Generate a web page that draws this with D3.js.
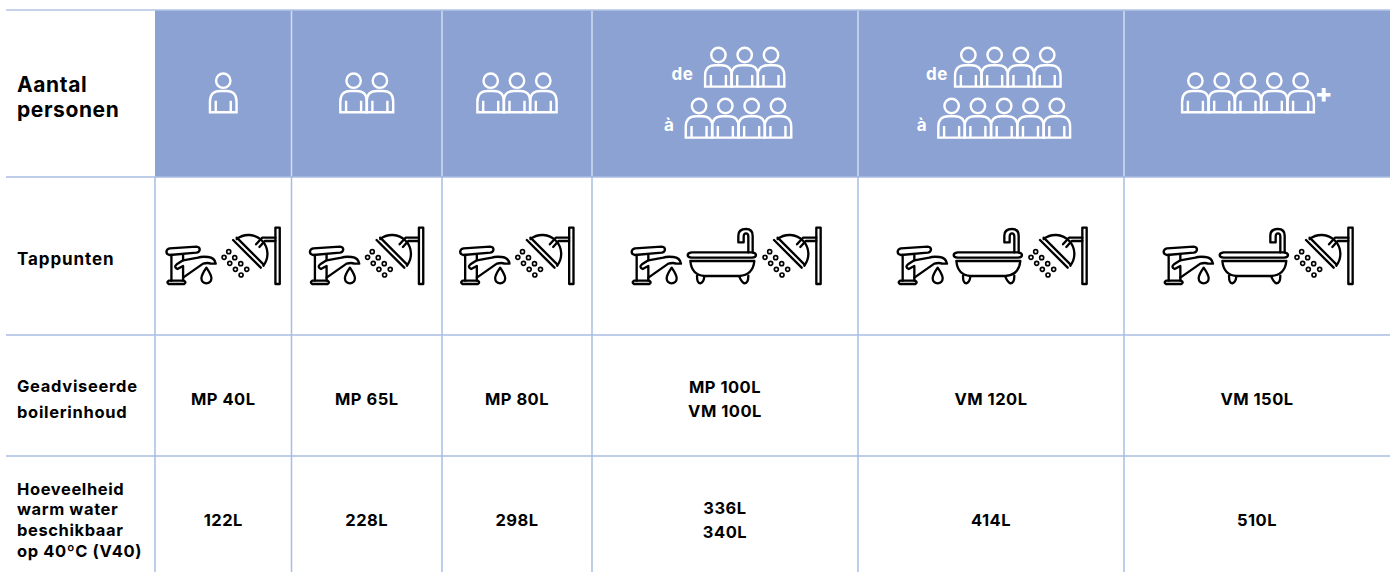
<!DOCTYPE html>
<html>
<head>
<meta charset="utf-8">
<script src="https://cdn.jsdelivr.net/npm/d3@7"></script>
<style>
  html, body { margin: 0; background: #fff; }
  svg { display: block; }
  text { font-family: Inter, "Open Sans", sans-serif; }
</style>
</head>
<body>
<div id="viz"></div>
<script>
// table content
var columns = ["c1", "c2", "c3", "c4", "c5", "c6"];
var personsFrom = [1, 2, 3, 3, 4, 5];
var personsTo = [0, 0, 0, 4, 5, 0];
var personsPlus = [false, false, false, false, false, true];
var fixtures = [
  ["tap", "shower"], ["tap", "shower"], ["tap", "shower"],
  ["tap", "bath", "shower"], ["tap", "bath", "shower"], ["tap", "bath", "shower"]
];
var boilers = [["MP 40L"], ["MP 65L"], ["MP 80L"], ["MP 100L", "VM 100L"], ["VM 120L"], ["VM 150L"]];
var volumes = [["122L"], ["228L"], ["298L"], ["336L", "340L"], ["414L"], ["510L"]];
var rowLabels = [
  ["Aantal", "personen"],
  ["Tappunten"],
  ["Geadviseerde", "boilerinhoud"],
  ["Hoeveelheid", "warm water", "beschikbaar", "op 40ºC (V40)"]
];

// layout
var W = 1392, H = 572;
var colEdges = [155, 291.5, 442, 592, 858, 1124, 1390];
var rowEdges = [10, 177, 335, 456, 572];
var blue = "#8ca2d3", line = "#a9bce2", headLine = "#d3ddf2", ink = "#000";

var x = d3.scaleOrdinal().domain(columns)
  .range(columns.map((c, i) => (colEdges[i] + colEdges[i + 1]) / 2));

var svg = d3.select("#viz").append("svg").attr("width", W).attr("height", H);

// header band
svg.append("rect").attr("x", colEdges[0]).attr("y", rowEdges[0])
  .attr("width", colEdges[6] - colEdges[0]).attr("height", rowEdges[1] - rowEdges[0])
  .attr("fill", blue);

// grid
svg.append("line").attr("x1", 6).attr("x2", 1390).attr("y1", 10).attr("y2", 10)
  .attr("stroke", "#b4c4e6").attr("stroke-width", 1.5);
svg.selectAll(".hline").data(rowEdges.slice(1, 4)).enter().append("line")
  .attr("x1", 6).attr("x2", 1390).attr("y1", d => d).attr("y2", d => d)
  .attr("stroke", line).attr("stroke-width", 1.5);
svg.selectAll(".vbody").data(colEdges.slice(0, 6)).enter().append("line")
  .attr("x1", d => d).attr("x2", d => d).attr("y1", rowEdges[1]).attr("y2", H)
  .attr("stroke", line).attr("stroke-width", 1.5);
svg.selectAll(".vhead").data(colEdges.slice(1, 6)).enter().append("line")
  .attr("x1", d => d).attr("x2", d => d).attr("y1", 11).attr("y2", rowEdges[1] - 1)
  .attr("stroke", headLine).attr("stroke-width", 1.5);

// one person, origin at the head centre
function person(g, cx, cy) {
  var p = g.append("g").attr("transform", "translate(" + cx + "," + cy + ")")
    .attr("fill", "none").attr("stroke", "#fff").attr("stroke-width", 2.4);
  p.append("circle").attr("r", 7.2);
  p.append("path").attr("d", "M-13.3 31.6 V21 Q-13.3 10.3 -3 10.3 H3 Q13.3 10.3 13.3 21 V31.6 H-13.3 Z M-7.5 31 V20 M7.5 31 V20");
}

function people(g, cx, cy, n) {
  d3.range(n).forEach(i => person(g, cx + (i - (n - 1) / 2) * 26.3, cy));
}

// header icons
var headDx = {from: [0, 0, 0, 19.7, 16.8, -9], to: [0, 0, 0, 13.5, 13.2, 0]};
var wordX = {de: [0, 0, 0, -42.5, -54, 0], a: [0, 0, 0, -56, -69.3, 0]};

columns.forEach(function (c, i) {
  var g = svg.append("g");
  if (personsTo[i] > 0) {
    people(g, x(c) + headDx.from[i], 55, personsFrom[i]);
    people(g, x(c) + headDx.to[i], 106, personsTo[i]);
    g.append("text").attr("x", x(c) + wordX.de[i]).attr("y", 80).attr("text-anchor", "middle")
      .attr("fill", "#fff").attr("font-size", 17).attr("font-weight", 700).attr("letter-spacing", 0.6).text("de");
    g.append("text").attr("x", x(c) + wordX.a[i]).attr("y", 131).attr("text-anchor", "middle")
      .attr("fill", "#fff").attr("font-size", 17).attr("font-weight", 700).text("à");
  } else {
    people(g, x(c) + headDx.from[i], 80.7, personsFrom[i]);
  }
  if (personsPlus[i]) {
    g.append("text").attr("x", x(c) + 66.7).attr("y", 102).attr("text-anchor", "middle")
      .attr("fill", "#fff").attr("font-size", 26).attr("font-weight", 800).text("+");
  }
});

// fixture icons are drawn at 3x and scaled down
var fixturePaths = {
  tap: [
    "M45 100 L125 95 Q135 96 135 104 Q133 112 125 113 L45 120 Q35 118 35 110 Q36 102 45 100 Z",
    "M50 120 V197 M85 120 V136 L66 148 Q56 156 68 162 L85 153 V197",
    "M85 136 L130 128 Q140 124 160 126 Q180 128 183 146 H168 Q160 142 145 146 L85 188",
    "M42 197 H88 Q96 202 88 207 H42 Q34 202 42 197 Z",
    "M155 158 Q170 180 170 190 A15 15 0 0 1 140 190 Q140 180 155 158 Z"
  ],
  bath: [
    "M212 112 H393 Q405 114 405 120 Q405 127 393 128 H212 Q200 127 200 120 Q200 114 212 112 Z",
    "M208 138 H400 Q396 180 355 183 H250 Q212 180 208 138 Z",
    "M228 182 Q228 205 238 205 Q248 202 250 185 M355 185 Q362 202 370 205 Q382 205 382 182",
    "M395 112 V62 Q395 42 375 42 Q352 42 352 62 V82 H368 V65 Q368 55 375 55 Q382 55 382 65 V112"
  ],
  shower: [
    "M362 38 H375 V207 H362 Z",
    "M362 68 H322 L304 88 M362 78 H330 L314 96",
    "M235 75 L318 158 M246 68 L326 148",
    "M246 72 A57 57 0 0 1 326 152"
  ]
};
var showerDots = [[222, 110], [208, 127], [240, 128], [225, 145], [258, 146], [242, 163], [276, 163], [259, 180]];

function drawFixture(g, name, dx) {
  var f = g.append("g").attr("transform", "translate(" + dx + ",0)")
    .attr("fill", "none").attr("stroke", "#000").attr("stroke-width", 7)
    .attr("stroke-linejoin", "round").attr("stroke-linecap", "round");
  fixturePaths[name].forEach(d => f.append("path").attr("d", d));
  if (name === "shower") {
    f.selectAll("circle").data(showerDots).enter().append("circle")
      .attr("cx", d => d[0]).attr("cy", d => d[1]).attr("r", 6).attr("stroke-width", 5);
  }
}

columns.forEach(function (c, i) {
  var three = fixtures[i].length === 3;
  var off = three ? 105 : 68.5;
  var g = svg.append("g")
    .attr("transform", "translate(" + (x(c) - off) + ",215) scale(" + (1 / 3) + ")");
  fixtures[i].forEach(function (name) {
    var dx = 0;
    if (three && name === "bath") dx = 3;
    if (three && name === "shower") dx = 227;
    drawFixture(g, name, dx);
  });
});

// value rows
function cellText(values, cy) {
  columns.forEach(function (c, i) {
    var lines = values[i];
    svg.selectAll(null).data(lines).enter().append("text")
      .attr("x", x(c))
      .attr("y", (d, k) => cy + (k - (lines.length - 1) / 2) * 24)
      .attr("dy", "0.36em")
      .attr("text-anchor", "middle")
      .attr("fill", ink)
      .attr("font-size", 16.5)
      .attr("letter-spacing", 0.5)
      .attr("font-weight", 700)
      .text(d => d);
  });
}
cellText(boilers, 399);
cellText(volumes, 520);

// row labels
var labelY = [[84.5, 109.5], [259], [386, 412], [489, 509, 530, 551]];
var labelSize = [21, 17, 16.5, 16.5];
var labelSpacing = [0.6, 0.9, 0.7, 0.6];
rowLabels.forEach(function (lines, r) {
  svg.selectAll(null).data(lines).enter().append("text")
    .attr("x", 17)
    .attr("y", (d, k) => labelY[r][k])
    .attr("dy", "0.36em")
    .attr("fill", ink)
    .attr("font-size", labelSize[r])
    .attr("letter-spacing", labelSpacing[r])
    .attr("font-weight", 700)
    .text(d => d);
});
</script>
</body>
</html>
